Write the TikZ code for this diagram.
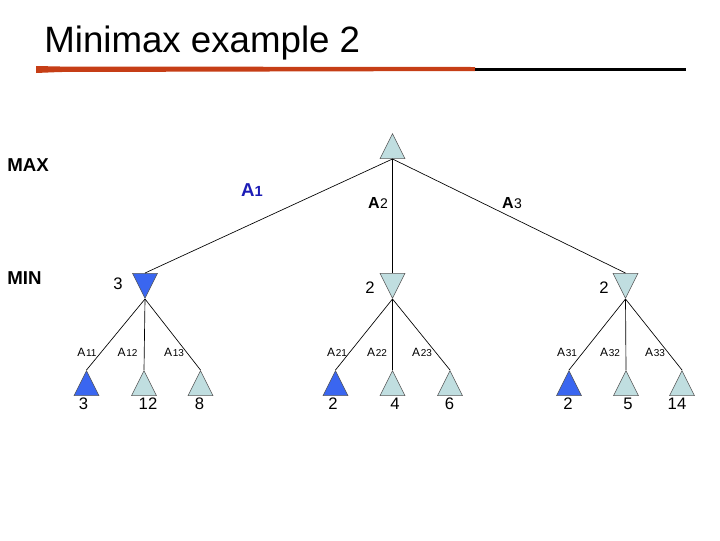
\documentclass[tikz,border=0pt]{standalone}
\usepackage{fontspec}
\setmainfont{Liberation Sans}
\usepackage{xcolor}
\usetikzlibrary{shapes.geometric,positioning}
\definecolor{nodecyan}{RGB}{192,222,224}
\definecolor{pickblue}{RGB}{58,102,240}
\definecolor{actblue}{RGB}{28,28,182}
\definecolor{titlerust}{RGB}{198,62,22}

\begin{document}
\begin{tikzpicture}[x=0.75pt,y=-0.75pt,line width=0.5pt,
 tri/.style={isosceles triangle,isosceles triangle stretches,draw=black!65,line width=0.4pt,
  inner sep=0pt,minimum width=18.75pt,minimum height=18.75pt,anchor=apex,fill=nodecyan},
 maxnode/.style={tri,shape border rotate=90},
 minnode/.style={tri,shape border rotate=270},
 picked/.style={fill=pickblue},
 val/.style={font=\fontsize{12.5}{14}\selectfont,inner sep=0pt},
 act/.style={font=\fontsize{9}{10}\selectfont,inner sep=0pt},
 level/.style={font=\fontsize{14}{16}\selectfont\bfseries,anchor=west,inner sep=0pt}]
\useasboundingbox (0,0) rectangle (720,540);
% title and rule
\node[anchor=base west,inner sep=0pt,font=\fontsize{27.5}{30}\selectfont] (title) at (44,52) {Minimax example 2};
\fill[titlerust] (36,66) -- (60,66.5) -- (475,67) -- (475,71) -- (60,72) -- (36,73) -- cycle;
\fill[black] (475,67.5) rectangle (686,71);
% levels
\node[level] (maxlbl) at (7,165) {MAX};
\node[level] (minlbl) at (7,278) {MIN};
% tree
\node[maxnode] (root) at (392.5,133) {};
\node[minnode,picked] (m1) at (145,299) {};
\node[minnode] (m2) at (392.5,299) {};
\node[minnode] (m3) at (625.5,299) {};
\node[maxnode,picked] (l11) at (86.5,370) {};
\node[maxnode] (l12) at (144,370) {};
\node[maxnode] (l13) at (200.5,370) {};
\node[maxnode,picked] (l21) at (335.5,370) {};
\node[maxnode] (l22) at (392.5,370) {};
\node[maxnode] (l23) at (450,370) {};
\node[maxnode,picked] (l31) at (569,370) {};
\node[maxnode] (l32) at (626,370) {};
\node[maxnode] (l33) at (682,370) {};
\draw (root.south)--(m1.north);
\draw (root.south)--(m2.north);
\draw (root.south)--(m3.north);
\foreach \i in {1,2,3}{
 \foreach \j in {1,2,3}{
  \draw (m\i.apex)--(l\i\j.apex);
 }
}
% actions
\node[font=\fontsize{14}{16}\selectfont\bfseries,text=actblue,inner sep=0pt] (a1) at (252,190) {A{\fontsize{11}{12}\selectfont 1}};
\node[font=\fontsize{12}{14}\selectfont\bfseries,inner sep=0pt] (a2) at (378,203) {A\kern.5pt{\fontsize{10.5}{12}\mdseries\selectfont 2}};
\node[font=\fontsize{12}{14}\selectfont\bfseries,inner sep=0pt] (a3) at (512,203) {A\kern.5pt{\fontsize{10.5}{12}\mdseries\selectfont 3}};
\foreach \i/\j/\x in {1/1/87,1/2/127.5,1/3/174,2/1/337,2/2/377,2/3/422,3/1/567,3/2/610,3/3/655}{
 \node[act] (a\i\j) at (\x,352.5) {A\kern.5pt{\fontsize{7.5}{8}\selectfont\i\j}};
}
% values
\node[val] (v1) at (118,284) {3};
\node[val] (v2) at (370,288) {2};
\node[val] (v3) at (604,288) {2};
\foreach \i/\j/\x/\v in {1/1/83.5/3,1/2/148/12,1/3/199.5/8,2/1/333/2,2/2/395/4,2/3/449.5/6,3/1/568/2,3/2/628/5,3/3/677/14}{
 \node[val] (v\i\j) at (\x,404) {\v};
}
\end{tikzpicture}
\end{document}
